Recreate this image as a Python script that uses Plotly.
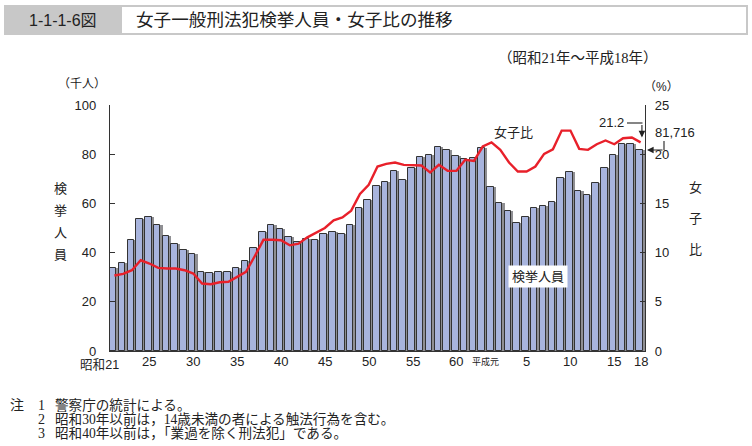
import plotly.graph_objects as go

# ---- data ----
years = (["昭和%d" % y for y in range(21, 64)] + ["平成%d" % y for y in range(1, 19)])
arrests_k = [33.8, 35.8, 45.0, 53.6, 54.3, 51.2, 46.9, 43.5, 41.1, 39.6,
             32.0, 31.8, 32.0, 32.0, 33.8, 36.6, 42.0, 48.2, 51.2, 49.6,
             46.4, 44.2, 45.5, 45.1, 47.4, 48.2, 47.4, 51.2, 58.2, 61.4,
             67.2, 68.9, 73.0, 69.6, 74.3, 78.8, 79.6, 83.1, 81.8, 79.1,
             78.0, 78.4, 82.7,
             66.5, 60.1, 56.9, 52.0, 54.3, 58.0, 58.8, 60.7, 70.3, 72.8,
             65.0, 63.4, 68.2, 74.5, 79.6, 84.2, 84.2, 81.716]
female_ratio = [7.67, 7.84, 8.21, 9.22, 8.89, 8.45, 8.38, 8.38, 8.21, 7.87,
                6.86, 6.79, 6.99, 7.03, 7.53, 8.04, 9.63, 11.3, 11.3, 11.25,
                10.74, 10.9, 11.55, 12.0, 12.5, 13.28, 13.58, 14.26, 15.95, 16.9,
                18.75, 19.02, 19.16, 18.92, 18.92, 18.85, 18.14, 18.92, 18.31, 18.31,
                19.43, 19.32, 20.78,
                21.2, 20.44, 19.16, 18.24, 18.24, 18.75, 20.03, 20.5, 22.4, 22.4,
                20.54, 20.44, 21.01, 21.39, 21.01, 21.62, 21.69, 21.2]
tick_years = ["昭和21", "昭和25", "昭和30", "昭和35", "昭和40", "昭和45", "昭和50",
              "昭和55", "昭和60", "平成1", "平成5", "平成10", "平成15", "平成18"]
tick_labels = ["昭和21", "25", "30", "35", "40", "45", "50", "55", "60",
               "平成元", "5", "10", "15", "18"]
left_ticks = [0, 20, 40, 60, 80, 100]
right_ticks = [0, 5, 10, 15, 20, 25]
note_nums = ["1", "2", "3"]
notes = ["警察庁の統計による。",
         "昭和30年以前は，14歳未満の者による触法行為を含む。",
         "昭和40年以前は，「業過を除く刑法犯」である。"]

xi = list(range(len(years)))
idx = {y: i for i, y in enumerate(years)}

SANS = "Liberation Sans, Noto Sans CJK JP"
SERIF = "Liberation Serif, Noto Sans CJK JP"
W, H = 752, 446
L, R, T, B = 110, 645, 105, 351


def pxx(x):
    return (x - L) / (R - L)


def pxy(y):
    return (B - y) / (B - T)


fig = go.Figure()
fig.add_trace(go.Bar(x=xi, y=arrests_k, width=1.0, offset=-0.5,
                     marker=dict(color="#8f8f93", line=dict(width=0)),
                     hoverinfo="skip", showlegend=False))
fig.add_trace(go.Bar(x=xi, y=arrests_k, width=0.74, offset=-0.5,
                     marker=dict(color="#a8b4dd", line=dict(color="#333333", width=1)),
                     showlegend=False))
fig.add_trace(go.Scatter(x=xi, y=female_ratio, yaxis="y2", mode="lines",
                         line=dict(color="#e8202a", width=2.4), showlegend=False))

anns = []
# x tick labels
for ty, tl in zip(tick_years, tick_labels):
    i = idx[ty]
    if tl == "昭和21":
        anns.append(dict(x=i, xref="x", y=pxy(373), yref="paper", text=tl,
                         showarrow=False, xanchor="right", xshift=6, borderpad=0,
                         font=dict(size=12.6, family=SANS, color="#222")))
    elif tl == "平成元":
        anns.append(dict(x=i, xref="x", y=pxy(369), yref="paper", text=tl,
                         showarrow=False, xanchor="center", xshift=-6,
                         font=dict(size=9, family=SANS, color="#222")))
    else:
        anns.append(dict(x=i, xref="x", y=pxy(371), yref="paper", text=tl,
                         showarrow=False, xanchor="center",
                         font=dict(size=13, family=SANS, color="#222")))


def txt(x, y, s, size=13, fam=SANS, xa="center", ya="middle", **kw):
    anns.append(dict(x=pxx(x), y=pxy(y), xref="paper", yref="paper", text=s,
                     showarrow=False, xanchor=xa, yanchor=ya,
                     font=dict(size=size, family=fam, color="#222"), **kw))


# title bar
txt(63, 20, "1-1-1-6図", size=16)
txt(134, 20, "女子一般刑法犯検挙人員・女子比の推移", size=17.6, xa="left")
txt(578, 58, "（昭和21年～平成18年）", size=14.5, fam=SERIF)
txt(82, 84, "（千人）", size=12)
txt(661, 87, "（%）", size=12)
for k, ch in enumerate("検挙人員"):
    txt(60, 188 + 22 * k, ch, size=13)
for k, ch in enumerate("女子比"):
    txt(695, 187 + 31.5 * k, ch, size=13)
txt(513, 132, "女子比", size=13)
txt(538, 276, "検挙人員", size=13, bgcolor="white", borderpad=3)
txt(611, 123, "21.2", size=13)
txt(675, 132, "81,716", size=13)

# arrows
anns.append(dict(x=60.15, xref="x", y=female_ratio[-1], yref="y2", text="",
                 showarrow=True, arrowhead=2, arrowsize=1.2, arrowwidth=1.1,
                 arrowcolor="#222", ax=0, ay=-19, standoff=5))
anns.append(dict(x=pxx(647), xref="paper", y=arrests_k[-1], yref="y", text="",
                 showarrow=True, arrowhead=2, arrowsize=1.2, arrowwidth=1.1,
                 arrowcolor="#222", ax=17, ay=0, standoff=0))

# footnotes
txt(8, 405, "注", size=14, fam=SERIF, xa="left")
for k, (num, n) in enumerate(zip(note_nums, notes)):
    txt(36, 405 + 14 * k, num, size=14, fam=SERIF, xa="left")
    txt(53, 405 + 14 * k, n, size=13.6, fam=SERIF, xa="left")

shapes = [
    dict(type="rect", xref="paper", yref="paper", x0=pxx(5), x1=pxx(747),
         y0=pxy(6), y1=pxy(34), line=dict(color="#c8c8c8", width=2), fillcolor="white",
         layer="below"),
    dict(type="rect", xref="paper", yref="paper", x0=pxx(5), x1=pxx(122),
         y0=pxy(6), y1=pxy(34), line=dict(width=0), fillcolor="#c8c8c8", layer="below"),
    dict(type="line", xref="paper", yref="paper", x0=pxx(627), x1=pxx(642.5),
         y0=pxy(123), y1=pxy(123), line=dict(color="#222", width=1.1)),
    dict(type="line", xref="paper", yref="paper", x0=pxx(664), x1=pxx(664),
         y0=pxy(141), y1=pxy(150), line=dict(color="#222", width=1.1)),
]

fig.update_layout(
    width=W, height=H, margin=dict(l=L, r=W - R, t=T, b=H - B),
    paper_bgcolor="white", plot_bgcolor="white",
    barmode="overlay", bargap=0,
    xaxis=dict(range=[-0.5, 60.5], showticklabels=False, ticks="", showgrid=False,
               zeroline=False, showline=True, linecolor="#333", linewidth=1.2),
    yaxis=dict(range=[0, 100], tickvals=left_ticks, ticks="inside", ticklen=5,
               tickcolor="#333", showgrid=False, zeroline=False, showline=True,
               linecolor="#333", linewidth=1.2, ticklabelstandoff=10,
               tickfont=dict(size=13, family=SANS, color="#222")),
    yaxis2=dict(range=[0, 25], tickvals=right_ticks, overlaying="y", side="right",
                ticks="inside", ticklen=5, tickcolor="#333", showgrid=False,
                zeroline=False, showline=True, linecolor="#333", linewidth=1.2,
                ticklabelstandoff=6,
                tickfont=dict(size=13, family=SANS, color="#222")),
    annotations=anns, shapes=shapes,
)
fig.write_html("out.html", config={"displayModeBar": False},
               post_script="document.body.style.margin='0';document.body.style.overflow='hidden';")
